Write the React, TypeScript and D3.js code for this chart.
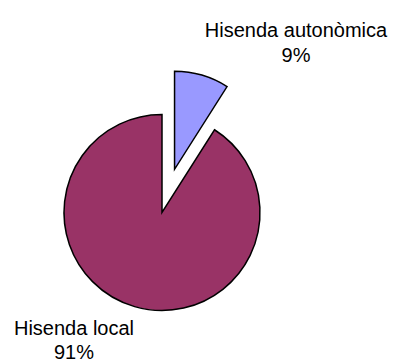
import React from "react";
import * as d3 from "d3";

const categories: string[] = ["Hisenda autonòmica", "Hisenda local"];
const values: number[] = [9, 91];
const pctLabels: string[] = ["9%", "91%"];
const colors: string[] = ["#9999FF", "#993366"];
const explode: number[] = [45, 0];

const W = 395;
const H = 362;
const cx = 162;
const cy = 212.5;
const R = 98;

type Row = { name: string; value: number; pct: string; color: string; off: number };
const rows: Row[] = categories.map((c, i) => ({
  name: c,
  value: values[i],
  pct: pctLabels[i],
  color: colors[i],
  off: explode[i],
}));

const labelPos: [number, number][] = [
  [296, 37],
  [74, 334.5],
];

export default function App() {
  const pie = d3
    .pie<Row>()
    .sort(null)
    .value((d) => d.value)
    .startAngle(0)
    .endAngle(2 * Math.PI);
  const arcs = pie(rows);
  const arc = d3.arc<d3.PieArcDatum<Row>>().innerRadius(0).outerRadius(R);

  return (
    <svg
      width={W}
      height={H}
      style={{ position: "absolute", left: 0, top: 0, background: "#fff" }}
      fontFamily="'Liberation Sans', Arial, sans-serif"
    >
      <g transform={`translate(${cx},${cy})`}>
        {arcs.map((a, i) => {
          const mid = (a.startAngle + a.endAngle) / 2;
          const dx = Math.sin(mid) * a.data.off;
          const dy = -Math.cos(mid) * a.data.off;
          return (
            <path
              key={i}
              d={arc(a) || ""}
              transform={`translate(${dx},${dy})`}
              fill={a.data.color}
              stroke="#000"
              strokeWidth={1.5}
              strokeLinejoin="miter"
            />
          );
        })}
      </g>
      {rows.map((r, i) => (
        <text key={i} textAnchor="middle" fontSize={20} fill="#000">
          <tspan x={labelPos[i][0]} y={labelPos[i][1]}>
            {r.name}
          </tspan>
          <tspan x={labelPos[i][0]} y={labelPos[i][1] + 24.5}>
            {r.pct}
          </tspan>
        </text>
      ))}
    </svg>
  );
}
